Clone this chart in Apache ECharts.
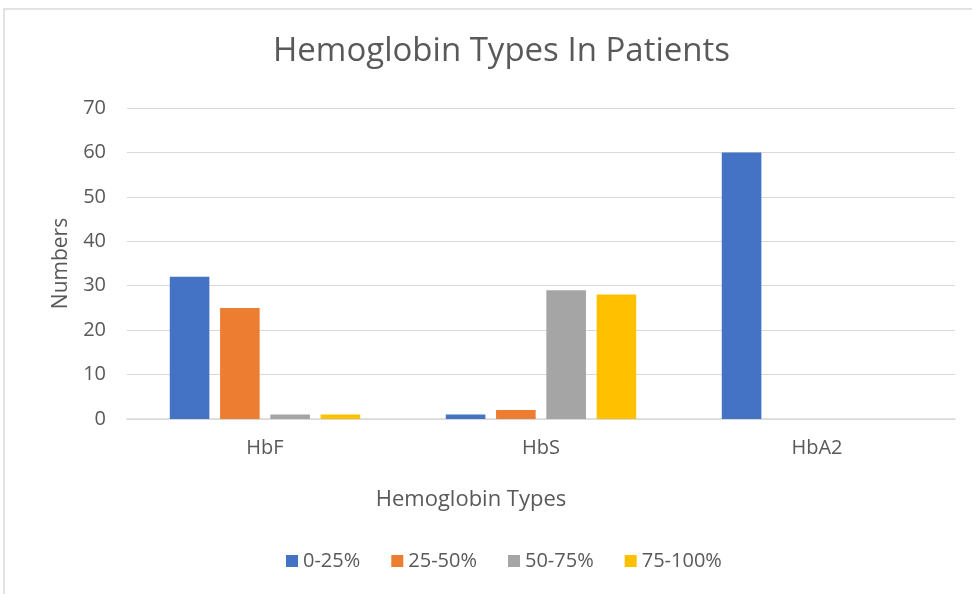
<!DOCTYPE html>
<html>
<head>
<meta charset="utf-8">
<script src="https://cdn.jsdelivr.net/npm/echarts@6/dist/echarts.min.js"></script>
<style>
  html, body { margin: 0; padding: 0; background: #fff; }
  #chart { width: 972px; height: 594px; }
</style>
</head>
<body>
<div id="chart"></div>
<script>
const categories = ['HbF', 'HbS', 'HbA2']
const seriesNames = ['0-25%', '25-50%', '50-75%', '75-100%']
const values025 = [32, 1, 60]
const values2550 = [25, 2, 0]
const values5075 = [1, 29, 0]
const values75100 = [1, 28, 0]
const colors = ['#4472C4', '#ED7D31', '#A5A5A5', '#FFC000']
const textColor = '#595959'
const font = 'Open Sans'

const myChart = echarts.init(document.getElementById('chart'))
const allValues = [values025, values2550, values5075, values75100]

const option = {
  animation: false,
  color: colors,
  title: {
    text: 'Hemoglobin Types In Patients',
    left: 268,
    top: 30,
    textStyle: { color: textColor, fontSize: 33, fontWeight: 'normal', fontFamily: font }
  },
  legend: {
    bottom: 18,
    left: 281,
    itemWidth: 12,
    itemHeight: 12,
    itemGap: 31,
    icon: 'rect',
    textStyle: { color: textColor, fontSize: 20, fontFamily: font },
    data: seriesNames
  },
  grid: { left: 127, right: 17, top: 108, bottom: 175 },
  xAxis: {
    type: 'category',
    data: categories,
    name: 'Hemoglobin Types',
    nameLocation: 'middle',
    nameGap: 70,
    nameTextStyle: { color: textColor, fontSize: 22, fontFamily: font, padding: [0, 140, 0, 0] },
    axisLine: { lineStyle: { color: '#d9d9d9', width: 1.5 } },
    axisTick: { show: false },
    axisLabel: { color: textColor, fontSize: 20, fontFamily: font, margin: 19 }
  },
  yAxis: {
    type: 'value',
    min: 0,
    max: 70,
    interval: 10,
    name: 'Numbers',
    nameLocation: 'middle',
    nameGap: 55,
    nameTextStyle: { color: textColor, fontSize: 21, fontFamily: font },
    axisLine: { show: false },
    axisTick: { show: false },
    axisLabel: { color: textColor, fontSize: 20, fontFamily: font, margin: 21 },
    splitLine: { lineStyle: { color: '#d9d9d9', width: 1 } }
  },
  graphic: [{
    type: 'rect',
    shape: { x: 4, y: 9, width: 1000, height: 700 },
    style: { fill: 'none', stroke: '#d9d9d9', lineWidth: 1.5 },
    silent: true
  }],
  series: seriesNames.map((name, i) => ({
    name: name,
    type: 'bar',
    data: allValues[i],
    barGap: '27%',
    barCategoryGap: '31%'
  }))
}
myChart.setOption(option)
</script>
</body>
</html>
